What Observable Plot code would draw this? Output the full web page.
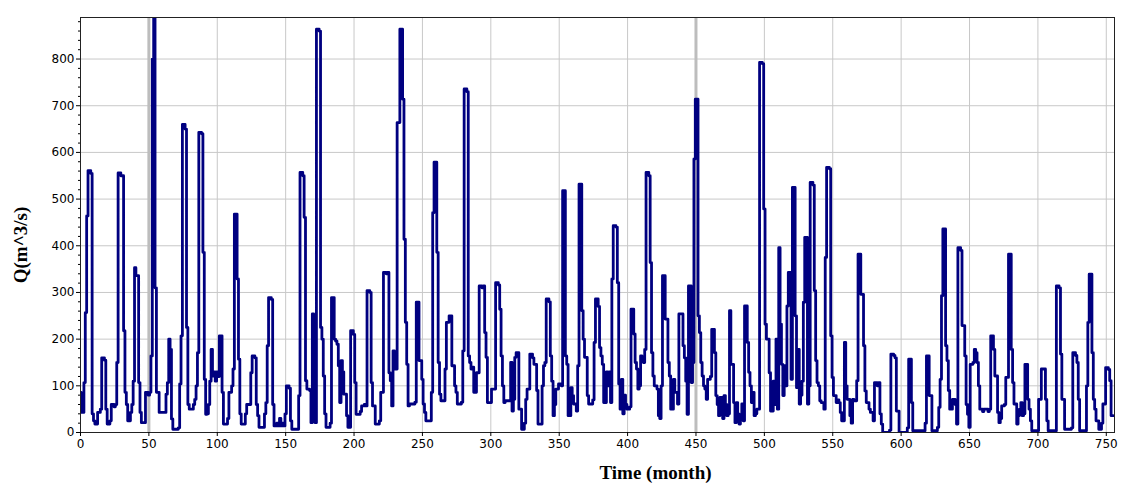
<!DOCTYPE html>
<html><head><meta charset="utf-8">
<script src="https://cdn.jsdelivr.net/npm/d3@7"></script>
<script src="https://cdn.jsdelivr.net/npm/@observablehq/plot@0.6"></script>
<style>
body{margin:0;background:#fff;}
#chart svg{display:block;}
</style></head><body><div id="chart"></div>
<script>
// Monthly discharge Q (m^3/s), month index 0..755, one row per 12 months
const flow = [
86,43,43,107,257,464,561,561,555,40,25,18,
18,43,43,50,160,160,155,50,18,18,25,60,
60,55,60,150,556,556,550,550,218,86,60,25,
25,43,60,110,353,336,336,107,43,21,21,21,
86,86,80,86,164,800,893,310,86,86,43,43,
43,43,43,82,107,200,178,29,7,7,7,7,
10,104,207,660,660,650,225,60,50,50,50,60,
71,100,171,643,643,640,386,114,39,40,60,110,
178,121,130,110,130,120,207,207,86,18,18,18,
30,86,86,100,136,468,468,329,157,40,18,18,
18,40,60,60,60,128,164,164,160,60,36,11,
11,11,11,40,64,186,289,289,285,60,14,14,
20,14,30,14,20,14,40,100,100,95,25,7,
7,7,7,7,79,557,557,550,461,111,93,93,
90,21,254,207,21,864,864,860,225,200,121,40,
11,11,11,20,289,289,200,196,189,143,64,154,
130,82,82,36,11,11,218,218,210,107,39,39,
39,45,57,57,60,57,304,304,300,107,57,57,
18,18,18,25,86,86,343,343,340,343,128,111,
57,175,136,136,664,664,864,864,714,414,236,146,
57,61,61,61,61,65,279,279,154,154,114,61,
43,25,25,25,25,86,471,579,579,386,150,82,
68,68,68,136,236,236,250,250,143,143,100,86,
61,61,61,65,175,736,736,730,164,150,136,140,
86,86,128,128,314,314,310,314,214,161,64,64,
64,93,93,93,321,321,316,264,164,100,64,68,
68,68,68,150,46,71,161,171,171,50,50,7,
7,20,71,93,93,168,168,160,146,146,90,18,
18,18,100,143,150,286,286,280,164,110,36,60,
93,93,104,104,100,518,518,164,146,36,36,96,
79,61,61,46,143,532,532,261,200,161,161,79,
61,61,61,70,193,286,286,270,182,164,146,64,
64,130,100,130,64,329,443,443,440,321,104,50,
114,40,80,60,50,50,55,264,264,211,150,136,
93,100,164,160,150,178,557,557,550,364,171,121,
100,100,93,36,30,100,336,336,243,243,150,121,
50,50,114,86,86,61,254,254,254,186,160,110,
39,314,314,107,150,586,714,714,250,214,150,121,
100,93,71,114,114,120,221,221,171,79,60,36,
75,75,30,79,60,36,40,261,146,146,64,21,
64,40,18,30,61,25,271,271,193,129,100,64,
86,36,40,50,50,793,793,790,479,232,200,200,
128,46,46,110,60,200,50,396,232,146,79,143,
100,271,343,343,114,525,525,250,96,178,61,80,
110,279,418,418,61,100,536,536,530,304,154,107,
100,68,64,64,50,375,568,568,565,207,118,79,
79,64,70,64,43,25,25,193,100,71,71,36,
20,71,68,68,111,382,382,296,296,186,89,64,
64,50,43,43,25,107,107,100,107,40,18,0,
0,0,0,0,5,168,168,165,160,46,46,0,
0,0,0,0,0,10,157,157,64,4,4,4,
4,4,4,4,4,4,20,164,164,79,79,4,
4,4,4,11,54,114,293,436,436,186,154,90,
50,50,71,71,60,18,396,396,390,229,229,164,
60,39,11,146,146,150,178,171,150,100,50,50,
45,50,50,50,45,50,207,207,178,121,121,43,
21,30,57,57,60,118,118,382,382,178,107,61,
61,18,36,50,64,36,40,146,146,71,50,25,
4,4,4,4,4,71,71,136,136,136,71,25,
4,4,4,4,4,4,314,314,310,168,71,71,
7,7,7,7,7,10,171,171,165,150,71,4,
4,4,4,4,100,236,339,339,171,71,50,25,
25,7,7,20,61,61,139,139,135,111,36,36
];
const xTicks = [0,50,100,150,200,250,300,350,400,450,500,550,600,650,700,750];
const yTicks = [0,100,200,300,400,500,600,700,800];
const yMinorTicks = [20,40,60,80,120,140,160,180,220,240,260,280,320,340,360,380,420,440,460,480,520,540,560,580,620,640,660,680,720,740,760,780,820,840,860,880];
const highlightMonths = [50,450];
const xTitle = "Time (month)";
const yTitle = "Q(m^3/s)";

const data = flow.map((q, i) => ({month: i, q}));
const titleFont = {fontFamily: "Liberation Serif", fontWeight: "bold", fontSize: 19, fill: "black", textAnchor: "middle", lineAnchor: "middle"};

const plot = Plot.plot({
  width: 1124,
  height: 483,
  marginLeft: 80,
  marginRight: 10,
  marginTop: 17,
  marginBottom: 51,
  style: {fontFamily: "DejaVu Sans", fontSize: "12px", background: "white", color: "black"},
  x: {domain: [0, 756]},
  y: {domain: [0, 889]},
  marks: [
    Plot.gridX({ticks: xTicks, stroke: "#c8c8c8", strokeOpacity: 1, strokeWidth: 1}),
    Plot.gridY({ticks: yTicks, stroke: "#c8c8c8", strokeOpacity: 1, strokeWidth: 1}),
    Plot.ruleX(highlightMonths, {stroke: "#bdbdbd", strokeWidth: 3}),
    Plot.line(data, {x: "month", y: "q", curve: "step", stroke: "#000080", strokeWidth: 2.8, clip: true}),
    Plot.frame({stroke: "#222"}),
    Plot.axisY({ticks: yTicks, tickSize: 4, tickPadding: 2, label: null}),
    Plot.axisY({ticks: yMinorTicks, tickSize: 2, text: null, label: null}),
    Plot.axisX({ticks: xTicks, tickSize: 4, tickPadding: 3, label: null}),
    Plot.text([xTitle], {frameAnchor: "bottom", dx: 58, dy: 40, ...titleFont}),
    Plot.text([yTitle], {frameAnchor: "left", rotate: -90, dx: -60, dy: 20, ...titleFont})
  ]
});
document.getElementById("chart").appendChild(plot);
</script></body></html>
